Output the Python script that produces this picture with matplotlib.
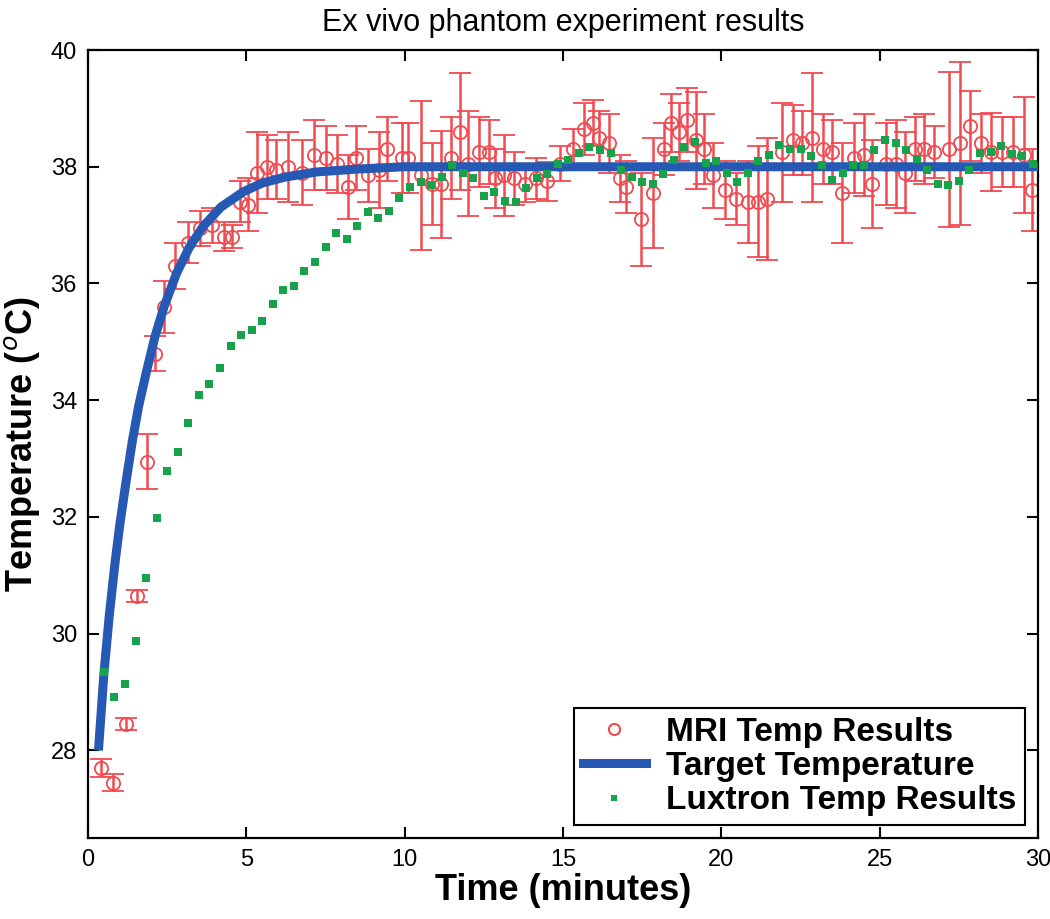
import matplotlib
matplotlib.use("Agg")
import matplotlib.pyplot as plt
from matplotlib.lines import Line2D

plt.rcParams['font.family'] = ['Liberation Sans', 'DejaVu Sans']

# MRI temperature measurements (minutes, degC, error)
mri_time = [0.40, 0.80, 1.20, 1.55, 1.85, 2.10, 2.40, 2.75, 3.15, 3.55,
            3.90, 4.30, 4.55, 4.80, 5.05, 5.35, 5.65, 5.95, 6.30, 6.75,
            7.15, 7.50, 7.85, 8.20, 8.45, 8.85, 9.20, 9.45, 9.90, 10.10,
            10.50, 10.85, 11.15, 11.45, 11.75, 12.00, 12.35, 12.65, 12.85, 13.15,
            13.45, 13.80, 14.15, 14.50, 14.90, 15.30, 15.65, 15.95, 16.15, 16.45,
            16.80, 17.00, 17.45, 17.85, 18.20, 18.40, 18.65, 18.90, 19.20, 19.45,
            19.75, 20.10, 20.45, 20.85, 21.15, 21.45, 21.90, 22.25, 22.55, 22.85,
            23.20, 23.50, 23.80, 24.20, 24.50, 24.75, 25.20, 25.50, 25.80, 26.10,
            26.40, 26.70, 27.20, 27.55, 27.85, 28.20, 28.50, 28.85, 29.20, 29.55,
            29.80]
mri_temp = [27.70, 27.45, 28.45, 30.65, 32.95, 34.80, 35.60, 36.30, 36.70, 36.95,
            37.00, 36.80, 36.80, 37.40, 37.35, 37.90, 38.00, 37.95, 38.00, 37.90,
            38.20, 38.15, 38.05, 37.65, 38.15, 37.85, 37.95, 38.30, 38.15, 38.15,
            37.85, 37.70, 37.70, 38.15, 38.60, 38.05, 38.25, 38.25, 37.80, 37.85,
            37.80, 37.70, 37.80, 37.75, 38.05, 38.30, 38.65, 38.75, 38.50, 38.40,
            37.80, 37.65, 37.10, 37.55, 38.30, 38.75, 38.60, 38.80, 38.45, 38.30,
            37.85, 37.60, 37.45, 37.40, 37.40, 37.45, 38.25, 38.45, 38.40, 38.50,
            38.30, 38.25, 37.55, 38.15, 38.20, 37.70, 38.05, 38.05, 37.90, 38.30,
            38.30, 38.25, 38.30, 38.40, 38.70, 38.40, 38.25, 38.25, 38.25, 38.20,
            37.60]
mri_err = [0.15, 0.15, 0.10, 0.10, 0.47, 0.30, 0.45, 0.40, 0.35, 0.30,
           0.30, 0.25, 0.20, 0.35, 0.45, 0.70, 0.55, 0.50, 0.60, 0.55,
           0.60, 0.55, 0.50, 0.55, 0.55, 0.45, 0.65, 0.55, 0.60, 0.60,
           1.28, 0.70, 0.92, 0.70, 1.00, 0.90, 0.60, 0.55, 0.50, 0.70,
           0.45, 0.30, 0.35, 0.33, 0.30, 0.35, 0.45, 0.40, 0.45, 0.50,
           0.40, 0.45, 0.80, 0.95, 0.45, 0.50, 0.50, 0.55, 0.83, 0.60,
           0.55, 0.50, 0.45, 0.70, 0.95, 1.05, 0.85, 0.60, 0.55, 1.10,
           0.60, 0.55, 0.85, 0.60, 0.70, 0.75, 0.70, 0.75, 0.70, 0.55,
           0.60, 0.45, 1.33, 1.40, 0.60, 0.50, 0.67, 0.60, 0.60, 1.00,
           0.70]

# target temperature curve
target_time = [0.33, 0.5, 0.67, 0.85, 1.0, 1.2, 1.4, 1.6, 1.85, 2.12,
               2.4, 2.8, 3.2, 3.64, 4.2, 4.9, 5.5, 6.2, 7.2, 8.5,
               10.0, 30.0]
target_temp = [28.0, 29.3, 30.3, 31.2, 31.85, 32.6, 33.3, 33.9, 34.5, 35.1,
               35.6, 36.18, 36.62, 36.98, 37.31, 37.57, 37.72, 37.82, 37.91, 37.96,
               38.0, 38.0]

# Luxtron fibre optic probe
lux_time = [0.50, 0.83, 1.17, 1.50, 1.83, 2.17, 2.50, 2.83, 3.17, 3.50,
            3.83, 4.17, 4.50, 4.83, 5.17, 5.50, 5.83, 6.17, 6.50, 6.83,
            7.17, 7.50, 7.83, 8.17, 8.50, 8.83, 9.17, 9.50, 9.83, 10.17,
            10.50, 10.83, 11.17, 11.50, 11.83, 12.17, 12.50, 12.83, 13.17, 13.50,
            13.83, 14.17, 14.50, 14.83, 15.17, 15.50, 15.83, 16.17, 16.50, 16.83,
            17.17, 17.50, 17.83, 18.17, 18.50, 18.83, 19.17, 19.50, 19.83, 20.17,
            20.50, 20.83, 21.17, 21.50, 21.83, 22.17, 22.50, 22.83, 23.17, 23.50,
            23.83, 24.17, 24.50, 24.83, 25.17, 25.50, 25.83, 26.17, 26.50, 26.83,
            27.17, 27.50, 27.83, 28.17, 28.50, 28.83, 29.17, 29.50, 29.83]
lux_temp = [29.35, 28.92, 29.13, 29.87, 30.96, 31.99, 32.78, 33.11, 33.61, 34.09,
            34.28, 34.56, 34.93, 35.11, 35.20, 35.35, 35.64, 35.89, 35.95, 36.21,
            36.36, 36.62, 36.87, 36.77, 36.99, 37.23, 37.13, 37.24, 37.47, 37.65,
            37.74, 37.69, 37.82, 38.03, 37.90, 37.80, 37.50, 37.57, 37.42, 37.40,
            37.64, 37.81, 37.87, 38.04, 38.12, 38.24, 38.33, 38.28, 38.24, 37.94,
            37.82, 37.74, 37.71, 37.87, 38.12, 38.33, 38.42, 38.06, 38.10, 37.90,
            37.74, 37.90, 38.10, 38.20, 38.37, 38.31, 38.31, 38.18, 38.03, 37.78,
            37.90, 38.03, 38.03, 38.29, 38.45, 38.41, 38.28, 38.14, 37.94, 37.71,
            37.69, 37.75, 37.94, 38.24, 38.26, 38.35, 38.22, 38.18, 38.04]

red = '#f04a50'
blue = '#2659b3'
green = '#16a34c'

fig = plt.figure(figsize=(10.5, 9.19), dpi=100)
ax = fig.add_axes([88 / 1050, 1 - 838 / 919, 950 / 1050, (838 - 50) / 919])

ax.errorbar(mri_time, mri_temp, yerr=mri_err, fmt='o', mfc='none', mec=red,
            ecolor=red, color=red, markersize=9.5, mew=1.3, elinewidth=1.8,
            capsize=8, capthick=1.8, zorder=2)
ax.plot(target_time, target_temp, color=blue, lw=6.5, zorder=3,
        solid_capstyle='butt', solid_joinstyle='round')
ax.plot(lux_time, lux_temp, 's', color=green, markersize=5.5, mew=0, zorder=4)

ax.set_xlim(0, 30)
ax.set_ylim(26.5, 40)
ax.set_xticks([0, 5, 10, 15, 20, 25, 30])
ax.set_yticks([28, 30, 32, 34, 36, 38, 40])
ax.tick_params(direction='in', length=8, width=1.5, labelsize=17,
               top=True, right=True, pad=8)
for s in ax.spines.values():
    s.set_linewidth(1.6)

ax.set_title('Ex vivo phantom experiment results', fontsize=22, pad=14)
ax.set_xlabel('Time (minutes)', fontsize=26, fontweight='bold', labelpad=1)
ax.set_ylabel('Temperature ($^o$C)', fontsize=26, fontweight='bold', labelpad=6)

handles = [
    Line2D([], [], ls='none', marker='o', mfc='none', mec=red, markersize=8, mew=1.5),
    Line2D([], [], color=blue, lw=6.5),
    Line2D([], [], ls='none', marker='s', color=green, markersize=5, mew=0),
]
labels = ['MRI Temp Results', 'Target Temperature', 'Luxtron Temp Results']
leg = ax.legend(handles, labels, loc='lower right',
                prop={'weight': 'bold', 'size': 24}, frameon=True,
                fancybox=False, edgecolor='black', borderaxespad=0.4,
                handlelength=1.9, handletextpad=0.6, labelspacing=0.1,
                borderpad=0.25, framealpha=1)
leg.get_frame().set_linewidth(1.5)

fig.savefig('out.png', dpi=100)
